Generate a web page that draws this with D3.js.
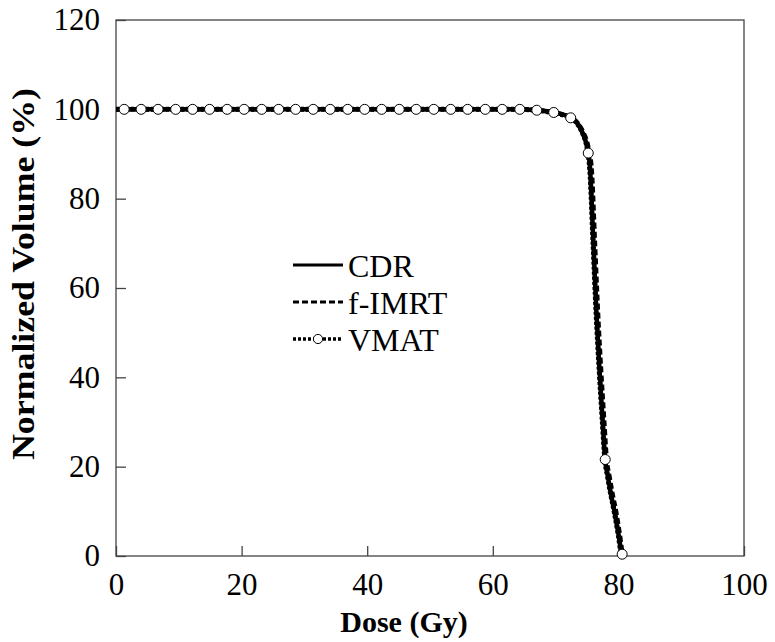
<!DOCTYPE html>
<html>
<head>
<meta charset="utf-8">
<script src="https://cdn.jsdelivr.net/npm/d3@7"></script>
<style>
  body { margin: 0; background: #fff; }
  text { font-family: "Liberation Serif", "Times New Roman", Times, serif; fill: #000; }
</style>
</head>
<body>
<div id="chart"></div>
<script>
// dose (Gy) / normalized volume (%)
const doseCDR = [0, 20, 40, 60, 64, 67, 69, 71, 72.4, 73.5, 74.3, 75, 75.5, 76, 76.5, 77, 77.5, 77.9, 78.3, 78.8, 79.4, 80, 80.5, 80.8]
const volCDR  = [100, 100, 100, 100, 100, 99.8, 99.5, 98.9, 98.1, 96.8, 94.7, 91.6, 86.4, 70.5, 54.4, 41.4, 29.9, 21.4, 18, 14, 9.8, 5, 0.8, 0]
const doseIMRT = [0, 20, 40, 60, 64, 67, 69, 71, 72.5, 73.6, 74.45, 75.2, 75.75, 76.25, 76.75, 77.25, 77.75, 78.15, 78.55, 79.05, 79.65, 80.2, 80.65, 80.95]
const volIMRT  = [100, 100, 100, 100, 100, 99.8, 99.5, 98.9, 98.1, 96.8, 94.7, 91.6, 86.4, 70.5, 54.4, 41.4, 29.9, 21.4, 18, 14, 9.8, 5, 0.8, 0]
const doseVMAT = [0, 20, 40, 60, 64, 67, 69, 71, 72.4, 73.5, 74.3, 75, 75.45, 75.95, 76.45, 76.95, 77.45, 77.85, 78.25, 78.75, 79.35, 79.95, 80.45, 80.75]
const volVMAT  = [100, 100, 100, 100, 100, 99.8, 99.4, 98.8, 98.1, 96.7, 94.6, 91.4, 86.4, 70.5, 54.4, 41.4, 29.9, 21.6, 18, 14, 9.8, 5, 0.6, 0]
// VMAT marker points
const markDose = [1.3, 4.0, 6.7, 9.5, 12.2, 14.9, 17.7, 20.4, 23.2, 25.9, 28.6, 31.4, 34.1, 36.9, 39.6, 42.3, 45.1, 47.8, 50.6, 53.3, 56.0, 58.8, 61.5, 64.3, 67.0, 69.7, 72.4, 75.2, 77.9, 80.6]
const markVol  = [100, 100, 100, 100, 100, 100, 100, 100, 100, 100, 100, 100, 100, 100, 100, 100, 100, 100, 100, 100, 100, 100, 100, 100, 99.8, 99.3, 98.1, 90.2, 21.6, 0.4]

const xTicks = [0, 20, 40, 60, 80, 100]
const yTicks = [0, 20, 40, 60, 80, 100, 120]
const seriesNames = ["CDR", "f-IMRT", "VMAT"]

const MARGIN = { LEFT: 116, RIGHT: 31, TOP: 20, BOTTOM: 86 }
const WIDTH = 775 - MARGIN.LEFT - MARGIN.RIGHT
const HEIGHT = 642 - MARGIN.TOP - MARGIN.BOTTOM

const svg = d3.select("#chart").append("svg")
  .attr("width", 775)
  .attr("height", 642)

const g = svg.append("g")
  .attr("transform", `translate(${MARGIN.LEFT}, ${MARGIN.TOP})`)

const x = d3.scaleLinear().domain([0, 100]).range([0, WIDTH])
const y = d3.scaleLinear().domain([0, 120]).range([HEIGHT, 0])

// frame
g.append("rect")
  .attr("width", WIDTH)
  .attr("height", HEIGHT)
  .attr("fill", "none")
  .attr("stroke", "#444")
  .attr("stroke-width", 1.3)

// axes with inward ticks
const xAxis = g.append("g")
  .attr("transform", `translate(0, ${HEIGHT})`)
  .call(d3.axisBottom(x).tickValues(xTicks).tickSizeInner(-10).tickSizeOuter(0).tickPadding(16))
const yAxis = g.append("g")
  .call(d3.axisLeft(y).tickValues(yTicks).tickSizeInner(-10).tickSizeOuter(0).tickPadding(16))

;[xAxis, yAxis].forEach(a => {
  a.attr("font-family", null)
  a.select(".domain").remove()
  a.selectAll("line").attr("stroke", "#444").attr("stroke-width", 1.3)
  a.selectAll("text")
    .attr("font-size", "31px")
    .attr("fill", "#000")
})
xAxis.selectAll("text").attr("dy", "0.75em")

// axis titles
g.append("text")
  .attr("x", 288)
  .attr("y", HEIGHT + 76)
  .attr("text-anchor", "middle")
  .attr("font-size", "30px")
  .attr("font-weight", "bold")
  .text("Dose (Gy)")

g.append("text")
  .attr("transform", "rotate(-90)")
  .attr("x", -254)
  .attr("y", -82)
  .attr("text-anchor", "middle")
  .attr("font-size", "31px")
  .attr("font-weight", "bold")
  .attr("textLength", 372)
  .attr("lengthAdjust", "spacingAndGlyphs")
  .text("Normalized Volume (%)")

const line = d3.line()
  .x(d => x(d[0]))
  .y(d => y(d[1]))
  .curve(d3.curveMonotoneX)

const cdr = doseCDR.map((d, i) => [d, volCDR[i]])
const imrt = doseIMRT.map((d, i) => [d, volIMRT[i]])
const vmat = doseVMAT.map((d, i) => [d, volVMAT[i]])
const marks = markDose.map((d, i) => [d, markVol[i]])

const styles = [
  { data: cdr, dash: null, width: 4.5 },
  { data: imrt, dash: "6,3", width: 4.5 },
  { data: vmat, dash: "3,2", width: 5 }
]

styles.forEach(s => {
  g.append("path")
    .datum(s.data)
    .attr("d", line)
    .attr("fill", "none")
    .attr("stroke", "#000")
    .attr("stroke-width", s.width)
    .attr("stroke-dasharray", s.dash)
})

g.selectAll("circle.mark")
  .data(marks)
  .enter().append("circle")
  .attr("class", "mark")
  .attr("cx", d => x(d[0]))
  .attr("cy", d => y(d[1]))
  .attr("r", 5)
  .attr("fill", "#fff")
  .attr("stroke", "#000")
  .attr("stroke-width", 1)

// legend
const legend = svg.append("g")
  .attr("transform", "translate(293, 265)")

seriesNames.forEach((name, i) => {
  const row = legend.append("g").attr("transform", `translate(0, ${i * 37})`)
  row.append("line")
    .attr("x1", 0).attr("x2", 50)
    .attr("stroke", "#000")
    .attr("stroke-width", i === 2 ? 3.5 : 3)
    .attr("stroke-dasharray", styles[i].dash)
  if (i === 2) {
    row.append("circle")
      .attr("cx", 25).attr("r", 4.6)
      .attr("fill", "#fff").attr("stroke", "#000").attr("stroke-width", 1)
  }
  row.append("text")
    .attr("x", 55)
    .attr("y", 12)
    .attr("font-size", "32px")
    .text(name)
})
</script>
</body>
</html>
